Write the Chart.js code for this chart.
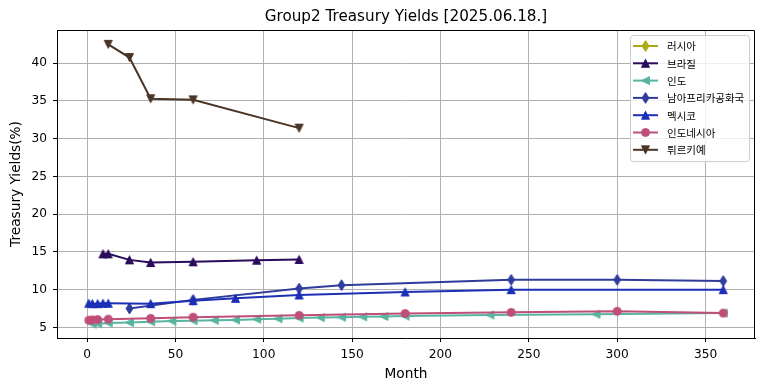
<!DOCTYPE html>
<html>
<head>
<meta charset="utf-8">
<script src="https://cdn.jsdelivr.net/npm/chart.js@4.4.1/dist/chart.umd.min.js"></script>
<style>
  html, body { margin: 0; padding: 0; background: #fff; }
</style>
</head>
<body>
<canvas id="yieldChart" width="764" height="391"></canvas>
<script>
// Series data (months to maturity, yield %)
const russiaMonths = [];
const russiaYields = [];
const brazilMonths = [9, 12, 24, 36, 60, 96, 120];
const brazilYields = [14.75, 14.75, 13.95, 13.6, 13.7, 13.9, 14.0];
const indiaMonths = [3, 6, 12, 24, 36, 48, 60, 72, 84, 96, 108, 120, 132, 144, 156, 168, 180, 228, 288, 360];
const indiaYields = [5.45, 5.5, 5.6, 5.65, 5.75, 5.85, 5.9, 5.95, 6.0, 6.1, 6.15, 6.25, 6.3, 6.35, 6.4, 6.45, 6.5, 6.65, 6.75, 6.9];
const southAfricaMonths = [24, 60, 120, 144, 240, 300, 360];
const southAfricaYields = [7.5, 8.65, 10.15, 10.6, 11.3, 11.3, 11.15];
const mexicoMonths = [1, 3, 6, 9, 12, 36, 60, 84, 120, 180, 240, 360];
const mexicoYields = [8.2, 8.15, 8.15, 8.2, 8.2, 8.15, 8.55, 8.85, 9.3, 9.7, 10.0, 10.0];
const indonesiaMonths = [1, 3, 6, 12, 36, 60, 120, 180, 240, 300, 360];
const indonesiaYields = [5.95, 6.0, 6.05, 6.1, 6.2, 6.35, 6.6, 6.85, 7.0, 7.15, 6.9];
const turkeyMonths = [12, 24, 36, 60, 120];
const turkeyYields = [42.5, 40.75, 35.3, 35.15, 31.4];

const countryNames = ['러시아', '브라질', '인도', '남아프리카공화국', '멕시코', '인도네시아', '튀르키예'];
const xTicks = [0, 50, 100, 150, 200, 250, 300, 350];
const yTicks = [5, 10, 15, 20, 25, 30, 35, 40];

// Build a small canvas with a matplotlib-like marker shape
function makeMarker(shape, color) {
    const c = document.createElement('canvas');
    c.width = 11;
    c.height = shape === 'thinDiamond' ? 13 : 11;
    const g = c.getContext('2d');
    const cx = c.width / 2, cy = c.height / 2, s = 4;
    g.fillStyle = color;
    g.strokeStyle = color;
    g.lineWidth = 1;
    g.beginPath();
    if (shape === 'circle') {
        g.arc(cx, cy, s, 0, Math.PI * 2);
    } else if (shape === 'triUp') {
        g.moveTo(cx, cy - s); g.lineTo(cx - s, cy + s); g.lineTo(cx + s, cy + s);
    } else if (shape === 'triDown') {
        g.moveTo(cx, cy + s); g.lineTo(cx - s, cy - s); g.lineTo(cx + s, cy - s);
    } else if (shape === 'triLeft') {
        g.moveTo(cx - s, cy); g.lineTo(cx + s, cy - s); g.lineTo(cx + s, cy + s);
    } else if (shape === 'thinDiamond') {
        g.moveTo(cx, cy - 5.4); g.lineTo(cx + 3.4, cy); g.lineTo(cx, cy + 5.4); g.lineTo(cx - 3.4, cy);
    }
    g.closePath();
    g.fill();
    g.stroke();
    return c;
}

function toPoints(xs, ys) {
    return xs.map((x, i) => ({ x: x, y: ys[i] }));
}

const seriesList = [
    { months: russiaMonths, yields: russiaYields, color: '#aaaa11', marker: 'thinDiamond' },
    { months: brazilMonths, yields: brazilYields, color: '#2b0b5c', marker: 'triUp' },
    { months: indiaMonths, yields: indiaYields, color: '#58b4a0', marker: 'triLeft' },
    { months: southAfricaMonths, yields: southAfricaYields, color: '#2f3c9c', marker: 'thinDiamond' },
    { months: mexicoMonths, yields: mexicoYields, color: '#1c2fb6', marker: 'triUp' },
    { months: indonesiaMonths, yields: indonesiaYields, color: '#bf4f78', marker: 'circle' },
    { months: turkeyMonths, yields: turkeyYields, color: '#4b3526', marker: 'triDown' }
];

const datasets = seriesList.map((s, i) => ({
    label: countryNames[i],
    data: toPoints(s.months, s.yields),
    borderColor: s.color,
    backgroundColor: s.color,
    borderWidth: 2,
    pointStyle: makeMarker(s.marker, s.color),
    pointRadius: 4,
    tension: 0,
    fill: false,
    order: seriesList.length - i // later series drawn on top, like matplotlib
}));

// Top/right spines plus the boxed legend in the upper right corner
const frameAndLegend = {
    id: 'frameAndLegend',
    afterDraw(chart) {
        const ctx = chart.ctx;
        const a = chart.chartArea;
        ctx.save();
        ctx.strokeStyle = '#000';
        ctx.lineWidth = 1;
        ctx.beginPath();
        ctx.moveTo(Math.round(a.left) + 0.5, Math.round(a.top) + 0.5);
        ctx.lineTo(Math.round(a.right) - 0.5, Math.round(a.top) + 0.5);
        ctx.lineTo(Math.round(a.right) - 0.5, Math.round(a.bottom));
        ctx.stroke();

        // legend box
        const bw = 119, rowH = 17.3;
        const bx = a.right - 6 - bw, by = a.top + 5;
        const bh = rowH * chart.data.datasets.length + 5;
        ctx.beginPath();
        ctx.roundRect(bx + 0.5, by + 0.5, bw, bh, 3);
        ctx.fillStyle = 'rgba(255,255,255,0.8)';
        ctx.fill();
        ctx.strokeStyle = '#cccccc';
        ctx.stroke();

        ctx.font = '10.5px "Noto Sans CJK KR", "Noto Sans", sans-serif';
        ctx.textAlign = 'left';
        ctx.textBaseline = 'middle';
        chart.data.datasets.forEach((ds, i) => {
            const cy = by + 11 + i * rowH;
            ctx.strokeStyle = ds.borderColor;
            ctx.lineWidth = 2;
            ctx.beginPath();
            ctx.moveTo(bx + 3, cy);
            ctx.lineTo(bx + 28, cy);
            ctx.stroke();
            const m = ds.pointStyle;
            ctx.drawImage(m, bx + 15.5 - m.width / 2, cy - m.height / 2);
            ctx.fillStyle = '#000';
            ctx.fillText(ds.label, bx + 37, cy + 0.5);
        });
        ctx.restore();
    }
};

const tickFont = { family: '"DejaVu Sans", sans-serif', size: 12.2 };
const labelFont = { family: '"DejaVu Sans", sans-serif', size: 13.7 };

new Chart(document.getElementById('yieldChart').getContext('2d'), {
    type: 'line',
    data: { datasets: datasets },
    options: {
        responsive: false,
        animation: false,
        layout: { padding: { left: 0, right: 9, top: 0, bottom: 0 } },
        plugins: {
            legend: { display: false },
            tooltip: { enabled: false },
            title: {
                display: true,
                text: 'Group2 Treasury Yields [2025.06.18.]',
                color: '#000',
                fullSize: false,
                font: { family: '"DejaVu Sans", sans-serif', size: 15.2, weight: 'normal' },
                padding: { top: 8, bottom: 3.76 }
            }
        },
        scales: {
            x: {
                type: 'linear',
                min: -17,
                max: 378,
                afterBuildTicks: s => { s.ticks = xTicks.map(v => ({ value: v })); },
                afterFit: s => { s.height = 53; },
                ticks: { color: '#000', font: tickFont, padding: 6, maxRotation: 0, autoSkip: false },
                grid: { color: '#b0b0b0', lineWidth: 1, tickColor: '#000', tickLength: 4 },
                border: { color: '#000', width: 1 },
                title: { display: true, text: 'Month', color: '#000', font: labelFont, padding: { top: 0, bottom: 8.8 } }
            },
            y: {
                type: 'linear',
                min: 3.6,
                max: 44.4,
                afterBuildTicks: s => { s.ticks = yTicks.map(v => ({ value: v })); },
                afterFit: s => { s.width = 57; },
                ticks: { color: '#000', font: tickFont, padding: 6, autoSkip: false },
                grid: { color: '#b0b0b0', lineWidth: 1, tickColor: '#000', tickLength: 4 },
                border: { color: '#000', width: 1 },
                title: { display: true, text: 'Treasury Yields(%)', color: '#000', font: labelFont, padding: { top: 7.8, bottom: 0 } }
            }
        }
    },
    plugins: [frameAndLegend]
});
</script>
</body>
</html>
